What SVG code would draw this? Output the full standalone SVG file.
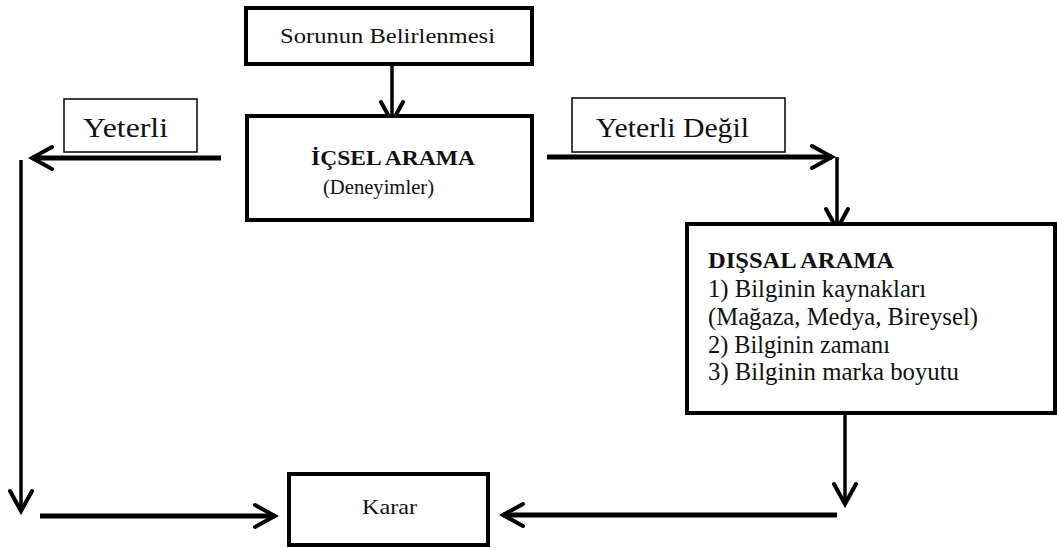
<svg xmlns="http://www.w3.org/2000/svg" width="1057" height="548" viewBox="0 0 1057 548" font-family="'Liberation Serif', 'Times New Roman', serif">
<style>
.box{fill:#fff;stroke:#000;stroke-width:4}
.lbl{fill:#fff;stroke:#000;stroke-width:1.5}
text{font-family:'Liberation Serif','Times New Roman',serif;fill:#111}
.b{font-weight:bold}
.h{fill:none;stroke:#000;stroke-width:5}
.v{fill:none;stroke:#000;stroke-width:3.5}
</style>
<defs>
<marker id="ah" viewBox="-26 -15 30 30" markerWidth="30" markerHeight="30" refX="0" refY="0" orient="auto" markerUnits="userSpaceOnUse">
<path d="M-20,-11 L0,0 L-20,11" fill="none" stroke="#000" stroke-width="4" stroke-linejoin="miter" stroke-linecap="round"/>
</marker>
</defs>
<rect width="1057" height="548" fill="#fff"/>
<g id="connectors">
<path class="v" d="M392,62 V122" marker-end="url(#ah)"/>
<path class="h" d="M221,158 H32" marker-end="url(#ah)"/>
<path class="v" d="M21,160 V511" marker-end="url(#ah)"/>
<path class="h" d="M40,516 H275" marker-end="url(#ah)"/>
<path class="h" d="M547,157 H832" marker-end="url(#ah)"/>
<path class="v" d="M837,157 V229" marker-end="url(#ah)"/>
<path class="v" d="M845,413 V504" marker-end="url(#ah)"/>
<path class="h" d="M837,515 H503" marker-end="url(#ah)"/>
</g>
<g id="sorunun">
<rect class="box" x="246" y="8" width="286" height="56"/>
<text x="280" y="43" font-size="22" textLength="215" lengthAdjust="spacingAndGlyphs">Sorunun Belirlenmesi</text>
</g>
<g id="icsel">
<rect class="box" x="247" y="116" width="285" height="104"/>
<text class="b" x="311" y="165" font-size="22" textLength="164" lengthAdjust="spacingAndGlyphs">İÇSEL  ARAMA</text>
<text x="323" y="194" font-size="22" textLength="111" lengthAdjust="spacingAndGlyphs">(Deneyimler)</text>
</g>
<g id="yeterli">
<rect class="lbl" x="64" y="99" width="133" height="53"/>
<text x="83" y="137" font-size="27" textLength="85" lengthAdjust="spacingAndGlyphs">Yeterli</text>
</g>
<g id="yeterli-degil">
<rect class="lbl" x="572" y="98" width="213" height="54"/>
<text x="596" y="137" font-size="27" textLength="153" lengthAdjust="spacingAndGlyphs">Yeterli Değil</text>
</g>
<g id="dissal">
<rect class="box" x="687" y="224" width="368" height="189"/>
<text class="b" x="708" y="268" font-size="24" textLength="186" lengthAdjust="spacingAndGlyphs">DIŞSAL  ARAMA</text>
<text x="708" y="297" font-size="25" textLength="218" lengthAdjust="spacingAndGlyphs">1) Bilginin kaynakları</text>
<text x="708" y="325" font-size="25" textLength="270" lengthAdjust="spacingAndGlyphs">(Mağaza, Medya, Bireysel)</text>
<text x="708" y="353" font-size="25" textLength="182" lengthAdjust="spacingAndGlyphs">2) Bilginin zamanı</text>
<text x="708" y="380" font-size="25" textLength="251" lengthAdjust="spacingAndGlyphs">3) Bilginin marka boyutu</text>
</g>
<g id="karar">
<rect class="box" x="289" y="474" width="199" height="71"/>
<text x="362" y="514" font-size="22" textLength="55" lengthAdjust="spacingAndGlyphs">Karar</text>
</g>
</svg>
